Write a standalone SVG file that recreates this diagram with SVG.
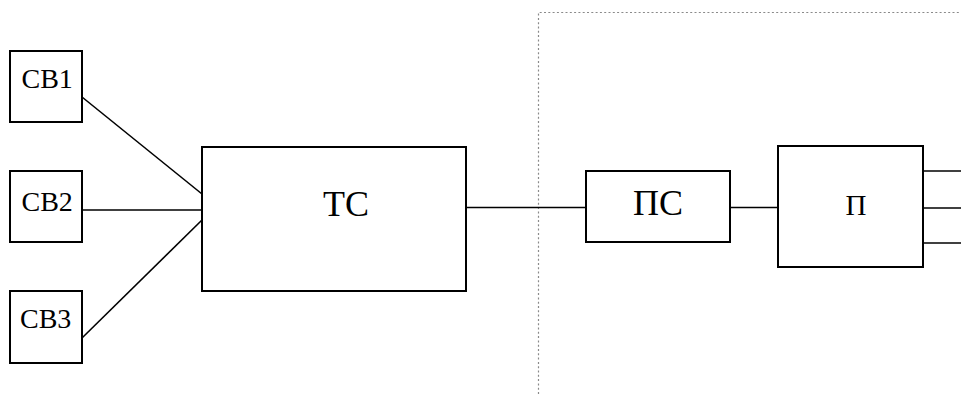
<svg xmlns="http://www.w3.org/2000/svg" width="961" height="394" viewBox="0 0 961 394">
<defs>
<style>
.box{fill:#fff;stroke:#000;stroke-width:2}
.ln{stroke:#000;stroke-width:1.6;fill:none}
</style>
</defs>
<rect width="961" height="394" fill="#fff"/>
<g id="boundary"><path d="M538.5 394 V12.5 H961" fill="none" stroke="#8a8a8a" stroke-width="1.2" stroke-dasharray="2,2.3"/></g>
<g id="connectors">
<line class="ln" x1="82" y1="97" x2="202" y2="194"/>
<line class="ln" x1="82" y1="210" x2="202" y2="210"/>
<line class="ln" x1="82" y1="338" x2="202" y2="220"/>
<line class="ln" x1="466" y1="207.5" x2="586" y2="207.5"/>
<line class="ln" x1="730" y1="207.5" x2="778" y2="207.5"/>
<line class="ln" x1="923" y1="171" x2="961" y2="171"/>
<line class="ln" x1="923" y1="208" x2="961" y2="208"/>
<line class="ln" x1="923" y1="243" x2="961" y2="243"/>
</g>
<g id="cb1"><rect class="box" x="10" y="51" width="72" height="71"/><text x="21.5" y="88" font-size="28" font-family="'Times New Roman','Liberation Serif',serif">СВ1</text></g>
<g id="cb2"><rect class="box" x="10" y="171" width="72" height="71"/><text x="21.5" y="211" font-size="28" font-family="'Times New Roman','Liberation Serif',serif">СВ2</text></g>
<g id="cb3"><rect class="box" x="10" y="291" width="72" height="72"/><text x="20" y="328" font-size="28" font-family="'Times New Roman','Liberation Serif',serif">СВ3</text></g>
<g id="tc"><rect class="box" x="202" y="147" width="264" height="144"/><text x="323" y="216" font-size="36" font-family="'Times New Roman','Liberation Serif',serif">ТС</text></g>
<g id="ps"><rect class="box" x="586" y="171" width="144" height="71"/><text x="633" y="215" font-size="36" font-family="'Times New Roman','Liberation Serif',serif">ПС</text></g>
<g id="p"><rect class="box" x="778" y="146" width="145" height="121"/><text x="845.5" y="215" font-size="29" font-family="'Times New Roman','Liberation Serif',serif">П</text></g>
</svg>
